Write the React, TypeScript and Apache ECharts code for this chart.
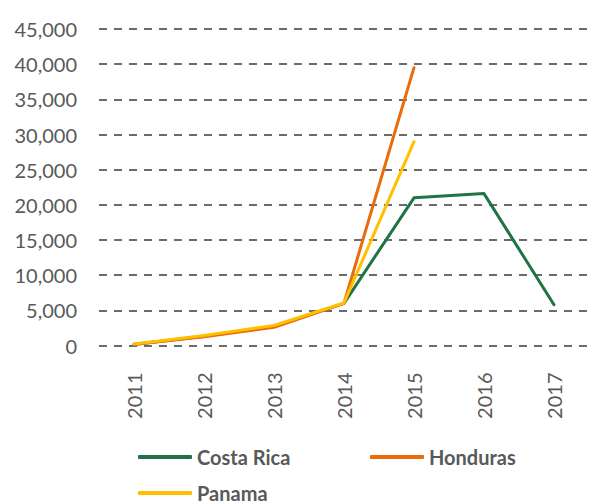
import React, { useEffect, useRef } from "react";
import * as echarts from "echarts";

const years = ["2011", "2012", "2013", "2014", "2015", "2016", "2017"];
const costaRica = [150, 1300, 2700, 6000, 21000, 21600, 5800];
const honduras = [170, 1250, 2600, 6000, 39500, null, null];
const panama = [200, 1420, 2850, 6050, 29000, null, null];
const yTicks = { min: 0, max: 45000, interval: 5000 };

const FONT = "Lato, 'Liberation Sans', sans-serif";
const GREEN = "#217346";
const ORANGE = "#EA6B0C";
const YELLOW = "#FFC000";
const TEXT = "#595959";

export default function App() {
  const ref = useRef<HTMLDivElement>(null);
  useEffect(() => {
    if (!ref.current) return;
    const chart = echarts.init(ref.current, undefined, { renderer: "svg" });
    const legendBase = {
      orient: "horizontal",
      padding: 0,
      icon: "roundRect",
      itemWidth: 54,
      itemHeight: 4,
      itemGap: 0,
      textStyle: { color: TEXT, fontFamily: FONT, fontSize: 20, fontWeight: "bold" },
    };
    chart.setOption({
      animation: false,
      backgroundColor: "#ffffff",
      grid: { left: 99, right: -4, top: 29, bottom: 156.5, containLabel: false },
      legend: [
        { ...legendBase, data: ["Costa Rica"], left: 138, top: 447 },
        { ...legendBase, data: ["Honduras"], left: 370, top: 447 },
        { ...legendBase, data: ["Panama"], left: 138, top: 483 },
      ],
      xAxis: {
        type: "category",
        data: years,
        boundaryGap: true,
        axisLine: { show: false },
        axisTick: { show: false },
        axisLabel: {
          rotate: 90,
          margin: 27,
          color: TEXT,
          fontFamily: FONT,
          fontSize: 20,
        },
      },
      yAxis: {
        type: "value",
        min: yTicks.min,
        max: yTicks.max,
        interval: yTicks.interval,
        axisLine: { show: false },
        axisTick: { show: false },
        splitLine: {
          show: true,
          lineStyle: { color: "#6b6b6b", width: 2, type: [8, 7] },
        },
        axisLabel: {
          margin: 22,
          color: TEXT,
          fontFamily: FONT,
          fontSize: 20,
          formatter: (v: number) => v.toLocaleString("en-US"),
        },
      },
      series: [
        {
          name: "Costa Rica",
          type: "line",
          data: costaRica,
          showSymbol: false,
          symbol: "none",
          lineStyle: { color: GREEN, width: 3, cap: "round", join: "round" },
          itemStyle: { color: GREEN },
        },
        {
          name: "Honduras",
          type: "line",
          data: honduras,
          showSymbol: false,
          symbol: "none",
          lineStyle: { color: ORANGE, width: 3, cap: "round", join: "round" },
          itemStyle: { color: ORANGE },
        },
        {
          name: "Panama",
          type: "line",
          data: panama,
          showSymbol: false,
          symbol: "none",
          lineStyle: { color: YELLOW, width: 3, cap: "round", join: "round" },
          itemStyle: { color: YELLOW },
        },
      ],
    });
    return () => chart.dispose();
  }, []);
  return (
    <div
      ref={ref}
      style={{ position: "fixed", left: 0, top: 0, width: 589, height: 502, background: "#fff" }}
    />
  );
}
